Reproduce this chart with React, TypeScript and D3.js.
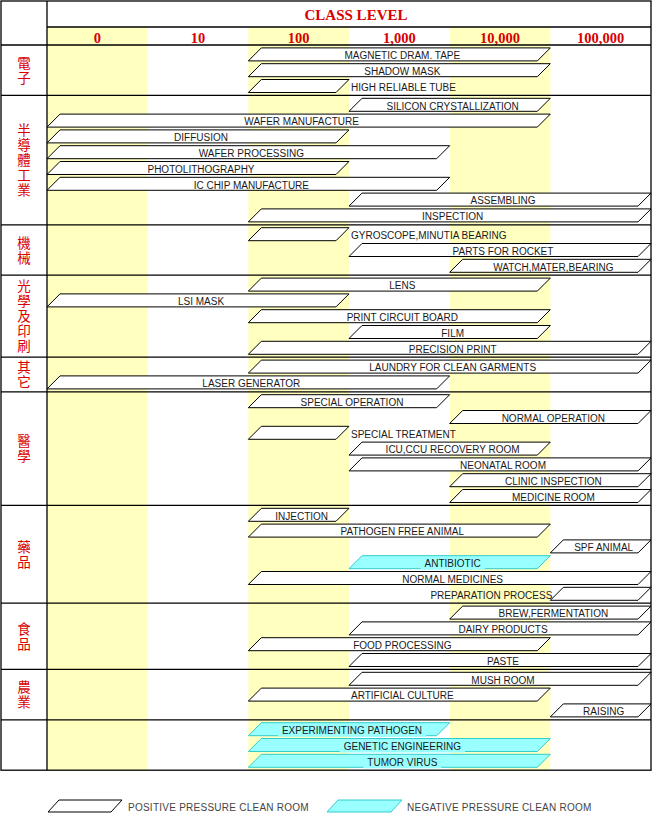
import React from "react";
import * as d3 from "d3";

const LEVELS = ["0", "10", "100", "1,000", "10,000", "100,000"];
const YELLOW_LEVELS = ["0", "100", "10,000"];
const SECTIONS = ["電子", "半導體工業", "機械", "光學及印刷", "其它", "醫學", "藥品", "食品", "農業", ""];

const BAR_LABELS = [
  "MAGNETIC DRAM. TAPE", "SHADOW MASK", "HIGH RELIABLE TUBE",
  "SILICON CRYSTALLIZATION", "WAFER MANUFACTURE", "DIFFUSION", "WAFER PROCESSING", "PHOTOLITHOGRAPHY", "IC CHIP MANUFACTURE", "ASSEMBLING", "INSPECTION",
  "GYROSCOPE,MINUTIA BEARING", "PARTS FOR ROCKET", "WATCH,MATER,BEARING",
  "LENS", "LSI MASK", "PRINT CIRCUIT BOARD", "FILM", "PRECISION PRINT",
  "LAUNDRY FOR CLEAN GARMENTS", "LASER GENERATOR",
  "SPECIAL OPERATION", "NORMAL OPERATION", "SPECIAL TREATMENT", "ICU,CCU RECOVERY ROOM", "NEONATAL ROOM", "CLINIC INSPECTION", "MEDICINE ROOM",
  "INJECTION", "PATHOGEN FREE ANIMAL", "SPF ANIMAL", "ANTIBIOTIC", "NORMAL MEDICINES", "PREPARATION PROCESS",
  "BREW,FERMENTATION", "DAIRY PRODUCTS", "FOOD PROCESSING", "PASTE",
  "MUSH ROOM", "ARTIFICIAL CULTURE", "RAISING",
  "EXPERIMENTING PATHOGEN", "GENETIC ENGINEERING", "TUMOR VIRUS",
];
const BAR_SECTION = [
  0, 0, 0,
  1, 1, 1, 1, 1, 1, 1, 1,
  2, 2, 2,
  3, 3, 3, 3, 3,
  4, 4,
  5, 5, 5, 5, 5, 5, 5,
  6, 6, 6, 6, 6, 6,
  7, 7, 7, 7,
  8, 8, 8,
  9, 9, 9,
];
const BAR_FROM = [
  "100", "100", "100",
  "1,000", "0", "0", "0", "0", "0", "1,000", "100",
  "100", "1,000", "10,000",
  "100", "0", "100", "1,000", "100",
  "100", "0",
  "100", "10,000", "100", "1,000", "1,000", "10,000", "10,000",
  "100", "100", "100,000", "1,000", "100", "100,000",
  "10,000", "1,000", "100", "1,000",
  "1,000", "100", "100,000",
  "100", "100", "100",
];
const BAR_TO = [
  "10,000", "10,000", "100",
  "10,000", "10,000", "100", "1,000", "100", "1,000", "100,000", "100,000",
  "100", "100,000", "100,000",
  "10,000", "100", "10,000", "10,000", "100,000",
  "100,000", "1,000",
  "1,000", "100,000", "100", "10,000", "100,000", "100,000", "100,000",
  "100", "10,000", "100,000", "10,000", "100,000", "100,000",
  "100,000", "100,000", "10,000", "100,000",
  "100,000", "10,000", "100,000",
  "1,000", "10,000", "10,000",
];
// c = centred inside, r = right of bar, l = left of bar
const BAR_LABEL_POS = [
  "c", "c", "r",
  "c", "c", "c", "c", "c", "c", "c", "c",
  "r", "c", "c",
  "c", "c", "c", "c", "c",
  "c", "c",
  "c", "c", "r", "c", "c", "c", "c",
  "c", "c", "c", "c", "c", "l",
  "c", "c", "c", "c",
  "c", "c", "c",
  "c", "c", "c",
];
const BAR_NEGATIVE = [
  false, false, false,
  false, false, false, false, false, false, false, false,
  false, false, false,
  false, false, false, false, false,
  false, false,
  false, false, false, false, false, false, false,
  false, false, false, true, false, false,
  false, false, false, false,
  false, false, false,
  true, true, true,
];
const LEGEND_LABELS = ["POSITIVE PRESSURE CLEAN ROOM", "NEGATIVE PRESSURE CLEAN ROOM"];

const RED = "#D80000";
const YELLOW = "#FFFFC0";
const CYAN = "#99FFFF";
const CYAN_EDGE = "#33CCCC";
const SANS = '"Liberation Sans", Arial, sans-serif';
const SERIF = '"Liberation Serif", "Times New Roman", serif';
const CJK = '"Noto Sans CJK TC", "Noto Sans CJK SC", sans-serif';

export default function App() {
  const W = 654, H = 815;
  const left = 1, right = 651, top = 1, catRight = 47, headMid = 27, headBottom = 45;
  const rowPitch = 15.8, sectionPad = 3, barH = 13, slant = 13;

  const x = d3.scaleBand<string>().domain(LEVELS).range([catRight, right]).padding(0);
  const bw = x.bandwidth();

  const counts = SECTIONS.map((_, s) => BAR_SECTION.filter((v) => v === s).length);
  const sectionH = counts.map((n) => n * rowPitch + sectionPad);
  const sectionTop: number[] = [];
  let acc = headBottom;
  sectionH.forEach((h) => { sectionTop.push(acc); acc += h; });
  const bottom = acc;

  const rowIdx = BAR_SECTION.map((s, i) => BAR_SECTION.slice(0, i).filter((v) => v === s).length);
  const yRow = d3.scaleLinear().domain([0, 1]).range([sectionPad / 2 + rowPitch / 2, sectionPad / 2 + rowPitch * 1.5]);
  const cy = (i: number) => sectionTop[BAR_SECTION[i]] + yRow(rowIdx[i]);

  const ctx = typeof document !== "undefined" ? document.createElement("canvas").getContext("2d") : null;
  const measure = (t: string) => {
    if (!ctx) return t.length * 6.4;
    ctx.font = `10px ${SANS}`;
    return ctx.measureText(t).width;
  };

  const para = (x0: number, x1: number, yt: number, yb: number, s: number) => {
    const p = d3.path();
    p.moveTo(x0, yb);
    p.lineTo(x0 + s, yt);
    p.lineTo(x1, yt);
    p.lineTo(x1 - s, yb);
    p.closePath();
    return p.toString();
  };

  return (
    <svg width={W} height={H} style={{ position: "absolute", left: 0, top: 0, background: "#fff" }}>
      {/* yellow columns */}
      {YELLOW_LEVELS.map((l) => (
        <rect key={l} x={x(l)} y={headMid} width={bw} height={bottom - headMid} fill={YELLOW} />
      ))}

      {/* header texts */}
      <text x={356} y={20} textAnchor="middle" fontFamily={SERIF} fontWeight="bold" fontSize={15} fill={RED}>
        CLASS LEVEL
      </text>
      {LEVELS.map((l) => (
        <text key={l} x={(x(l) as number) + bw / 2} y={43} textAnchor="middle" fontFamily={SERIF} fontWeight="bold" fontSize={14.5} fill={RED}>
          {l}
        </text>
      ))}

      {/* section labels (vertical stacked characters) */}
      {SECTIONS.map((s, si) => {
        const chars = Array.from(s);
        if (!chars.length) return null;
        const c = sectionTop[si] + sectionH[si] / 2 - 1;
        const pitch = 15;
        const y0 = c - ((chars.length - 1) / 2) * pitch;
        return (
          <text key={si} x={24} y={y0} textAnchor="middle" dominantBaseline="central"
            fontFamily={CJK} fontSize={13.5} fill={RED}>
            {chars.map((ch, k) => (
              <tspan key={k} x={24} y={y0 + k * pitch}>{ch}</tspan>
            ))}
          </text>
        );
      })}

      {/* bars */}
      {BAR_LABELS.map((label, i) => {
        const x0 = x(BAR_FROM[i]) as number;
        const x1 = (x(BAR_TO[i]) as number) + bw;
        const c = cy(i);
        const yt = c - barH / 2, yb = c + barH / 2;
        const neg = BAR_NEGATIVE[i];
        const pos = BAR_LABEL_POS[i];
        let tx = (x0 + x1) / 2 + 3;
        let anchor: "middle" | "start" | "end" = "middle";
        if (pos === "r") { tx = x1 + 2; anchor = "start"; }
        if (pos === "l") { tx = x0 + 2; anchor = "end"; }
        const tw = measure(label);
        return (
          <g key={i}>
            <path d={para(x0, x1, yt, yb, slant)} fill={neg ? CYAN : "#fff"} stroke={neg ? CYAN_EDGE : "#000"} strokeWidth={1} />
            {neg && (
              <rect x={tx - tw / 2 - 4} y={c - 4} width={tw + 8} height={barH / 2 + 5} fill={CYAN} />
            )}
            <text x={tx} y={c + 4.8} textAnchor={anchor} fontFamily={SANS} fontSize={10} fill="#1a1a1a">
              {label}
            </text>
          </g>
        );
      })}

      {/* grid lines */}
      <g stroke="#000" strokeWidth={1.3} fill="none">
        <rect x={left} y={top} width={right - left} height={bottom - top} />
        <line x1={catRight} x2={catRight} y1={top} y2={bottom} />
        <line x1={catRight} x2={right} y1={headMid} y2={headMid} />
        <line x1={left} x2={right} y1={headBottom} y2={headBottom} />
        {sectionTop.slice(1).map((t, k) => (
          <line key={k} x1={left} x2={right} y1={t} y2={t} />
        ))}
      </g>

      {/* legend */}
      <path d={para(48, 122, 800, 812, 11)} fill="#fff" stroke="#000" strokeWidth={1} />
      <text x={128} y={810.5} fontFamily={SANS} fontSize={10} fill="#444" letterSpacing={0.25}>{LEGEND_LABELS[0]}</text>
      <path d={para(327, 402, 800, 812, 11)} fill={CYAN} stroke={CYAN_EDGE} strokeWidth={1} />
      <text x={407} y={810.5} fontFamily={SANS} fontSize={10} fill="#444" letterSpacing={0.25}>{LEGEND_LABELS[1]}</text>
    </svg>
  );
}
